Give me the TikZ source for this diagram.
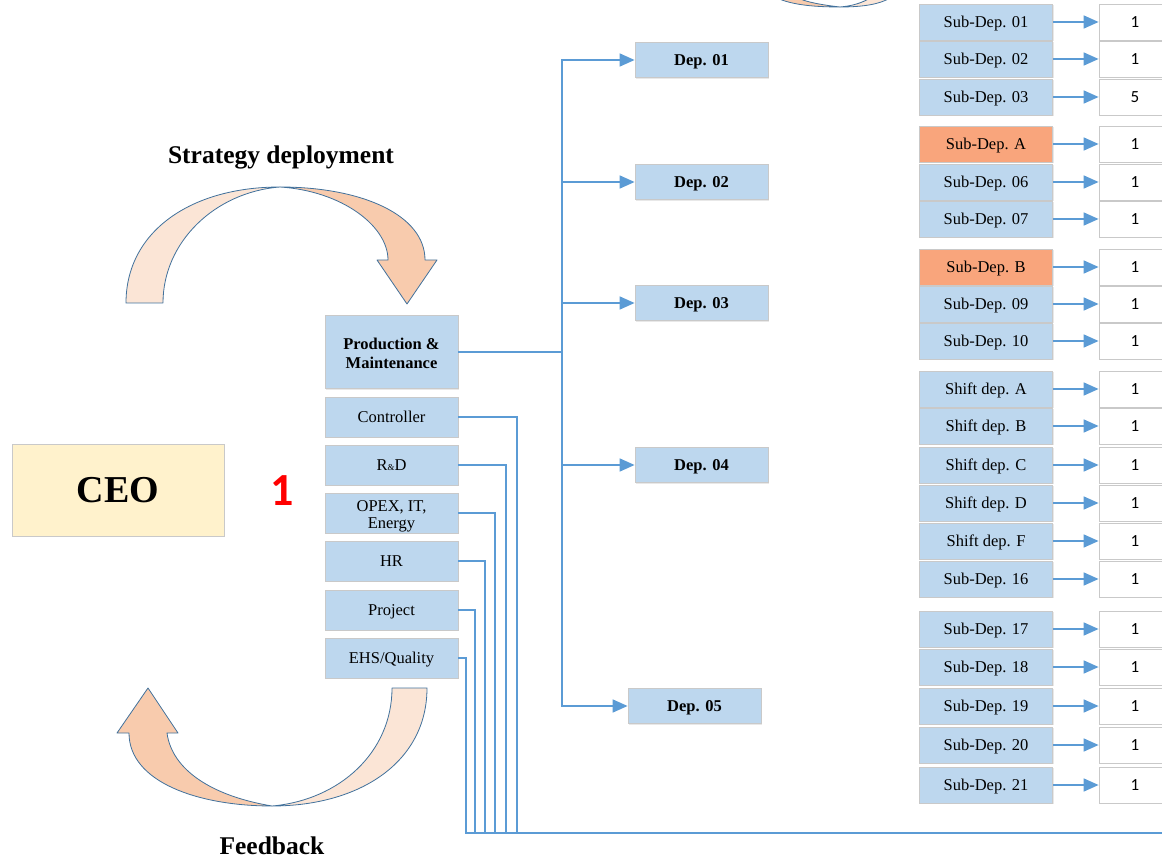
\documentclass[tikz,border=0pt]{standalone}
\usepackage{fontspec}
\setmainfont{Liberation Serif}
\newfontfamily\numfont{Carlito}
\usetikzlibrary{arrows.meta,shadows}
\definecolor{boxblue}{HTML}{BDD7EE}
\definecolor{boxorange}{HTML}{F9A57C}
\definecolor{ceoyellow}{HTML}{FFF2CC}
\definecolor{linkblue}{HTML}{5B9BD5}
\definecolor{rimgray}{HTML}{C9C9C9}
\definecolor{bandlight}{HTML}{FBE5D6}
\definecolor{banddark}{HTML}{F8CBAD}
\definecolor{bandrim}{HTML}{41719C}
\begin{document}
\begin{tikzpicture}[x=1pt,y=-1pt,
    box/.style={draw=rimgray,fill=boxblue,line width=0.8pt,inner sep=0pt,
      minimum width=133pt,minimum height=36pt,align=center,
      text height=10.8pt,text depth=0pt,
      font=\fontsize{16.5}{17}\selectfont,
      drop shadow={shadow xshift=1.2pt,shadow yshift=-1.2pt,opacity=0.18,fill=gray}},
    hot/.style={box,fill=boxorange},
    depbox/.style={box,minimum height=35pt,font=\fontsize{16.5}{17}\selectfont\bfseries},
    staff/.style={box,minimum height=40pt},
    val/.style={draw=rimgray,fill=white,line width=0.8pt,inner sep=0pt,
      minimum width=72pt,minimum height=36pt,text height=10.5pt,text depth=0pt,
      font=\numfont\fontsize{17}{17}\selectfont},
    link/.style={draw=linkblue,line width=1.6pt},
    arr/.style={link,-{Triangle[width=13pt,length=15pt]}},
    band/.style={draw=bandrim,line width=0.8pt,line join=round}]
  \clip (0,0) rectangle (1162,858);

  % curved arrows
  \filldraw[band,fill=bandlight] (126,303) .. controls (126,232) and (190,187) .. (280,187)
    .. controls (215,192) and (163,242) .. (163,303) -- cycle;
  \filldraw[band,fill=banddark] (280,187) .. controls (362,187) and (425,215) .. (425,260)
    -- (437,260) -- (407,304) -- (377,260) -- (388,260)
    .. controls (388,226) and (342,191) .. (280,187) -- cycle;
  \filldraw[band,fill=bandlight] (427,688) .. controls (427,762) and (360,806) .. (272,806)
    .. controls (340,800) and (392,752) .. (392,688) -- cycle;
  \filldraw[band,fill=banddark] (272,806) .. controls (198,806) and (129,782) .. (129,733)
    -- (117,733) -- (148,688) -- (178,733) -- (167,733)
    .. controls (172,770) and (212,796) .. (272,806) -- cycle;
  % cut arrow at the top
  \filldraw[band,fill=banddark] (777,-2) .. controls (792,5) and (815,7) .. (840,7)
    .. controls (822,5) and (806,2) .. (798,-2) -- cycle;
  \filldraw[band,fill=bandlight] (840,7) .. controls (864,7) and (880,4) .. (890,-2)
    -- (870,-2) .. controls (862,3) and (852,6) .. (840,7) -- cycle;

  \node[font=\fontsize{25.5}{27}\selectfont\bfseries] (strat) at (281,157) {Strategy deployment};
  \node[font=\fontsize{25.5}{27}\selectfont\bfseries] (feed) at (272,846) {Feedback};

  % CEO
  \node[box,fill=ceoyellow,minimum width=212pt,minimum height=92pt,text height=25pt,
    font=\fontsize{38}{40}\selectfont\bfseries] (ceo) at (118,490) {CEO};
  \node[text=red,font=\numfont\fontsize{46}{48}\selectfont\bfseries] (one) at (282,491) {1};

  % staff column
  \node[staff,minimum height=73pt,text height=33.6pt,
    font=\fontsize{16.5}{19}\selectfont\bfseries] (prod) at (391.5,352) {Production \&\\Maintenance};
  \node[staff] (ctrl) at (391.5,417) {Controller};
  \node[staff] (rd) at (391.5,465) {R{\small\&}D};
  \node[staff,text height=31.8pt] (opex) at (391.5,513) {OPEX, IT,\\Energy};
  \node[staff] (hr) at (391.5,561) {HR};
  \node[staff] (proj) at (391.5,610) {Project};
  \node[staff] (ehs) at (391.5,658) {EHS/Quality};

  % departments
  \node[depbox] (dep1) at (701.5,60) {Dep. 01};
  \node[depbox] (dep2) at (701.5,182) {Dep. 02};
  \node[depbox] (dep3) at (701.5,303) {Dep. 03};
  \node[depbox] (dep4) at (701.5,465) {Dep. 04};
  \node[depbox] (dep5) at (694.5,706) {Dep. 05};

  \coordinate (jn) at (562,352);
  \draw[link] (prod.east) -- (jn);
  \draw[arr] (jn) |- (dep1.west);
  \draw[arr] (jn) |- (dep2.west);
  \draw[arr] (jn) |- (dep3.west);
  \draw[arr] (jn) |- (dep4.west);
  \draw[arr] (jn) |- (dep5.west);

  % staff lines to the bottom bus
  \coordinate (bus) at (1170,833);
  \coordinate (bctrl) at (517,833);
  \coordinate (brd) at (506,833);
  \coordinate (bopex) at (495,833);
  \coordinate (bhr) at (485,833);
  \coordinate (bproj) at (475,833);
  \coordinate (behs) at (466,833);
  \draw[link] (ctrl.east) -| (bctrl) -- (bus);
  \draw[link] (rd.east) -| (brd) -- (bus);
  \draw[link] (opex.east) -| (bopex) -- (bus);
  \draw[link] (hr.east) -| (bhr) -- (bus);
  \draw[link] (proj.east) -| (bproj) -- (bus);
  \draw[link] (ehs.east) -| (behs) -- (bus);

  % sub-departments and their values
  \node[box] (s01) at (986,22) {Sub-Dep. 01};   \node[val] (v01) at (1135,22) {1};
  \node[box] (s02) at (986,59) {Sub-Dep. 02};   \node[val] (v02) at (1135,59) {1};
  \node[box] (s03) at (986,97) {Sub-Dep. 03};   \node[val] (v03) at (1135,97) {5};
  \node[hot] (sA) at (986,144) {Sub-Dep. A};    \node[val] (vA) at (1135,144) {1};
  \node[box] (s06) at (986,182) {Sub-Dep. 06};  \node[val] (v06) at (1135,182) {1};
  \node[box] (s07) at (986,219) {Sub-Dep. 07};  \node[val] (v07) at (1135,219) {1};
  \node[hot] (sB) at (986,267) {Sub-Dep. B};    \node[val] (vB) at (1135,267) {1};
  \node[box] (s09) at (986,304) {Sub-Dep. 09};  \node[val] (v09) at (1135,304) {1};
  \node[box] (s10) at (986,341) {Sub-Dep. 10};  \node[val] (v10) at (1135,341) {1};
  \node[box] (shA) at (986,389) {Shift dep. A}; \node[val] (vhA) at (1135,389) {1};
  \node[box] (shB) at (986,426) {Shift dep. B}; \node[val] (vhB) at (1135,426) {1};
  \node[box] (shC) at (986,465) {Shift dep. C}; \node[val] (vhC) at (1135,465) {1};
  \node[box] (shD) at (986,503) {Shift dep. D}; \node[val] (vhD) at (1135,503) {1};
  \node[box] (shF) at (986,541) {Shift dep. F}; \node[val] (vhF) at (1135,541) {1};
  \node[box] (s16) at (986,579) {Sub-Dep. 16};  \node[val] (v16) at (1135,579) {1};
  \node[box] (s17) at (986,629) {Sub-Dep. 17};  \node[val] (v17) at (1135,629) {1};
  \node[box] (s18) at (986,667) {Sub-Dep. 18};  \node[val] (v18) at (1135,667) {1};
  \node[box] (s19) at (986,706) {Sub-Dep. 19};  \node[val] (v19) at (1135,706) {1};
  \node[box] (s20) at (986,745) {Sub-Dep. 20};  \node[val] (v20) at (1135,745) {1};
  \node[box] (s21) at (986,785) {Sub-Dep. 21};  \node[val] (v21) at (1135,785) {1};

  \draw[arr] (s01) -- (v01);  \draw[arr] (s02) -- (v02);  \draw[arr] (s03) -- (v03);
  \draw[arr] (sA) -- (vA);    \draw[arr] (s06) -- (v06);  \draw[arr] (s07) -- (v07);
  \draw[arr] (sB) -- (vB);    \draw[arr] (s09) -- (v09);  \draw[arr] (s10) -- (v10);
  \draw[arr] (shA) -- (vhA);  \draw[arr] (shB) -- (vhB);  \draw[arr] (shC) -- (vhC);
  \draw[arr] (shD) -- (vhD);  \draw[arr] (shF) -- (vhF);  \draw[arr] (s16) -- (v16);
  \draw[arr] (s17) -- (v17);  \draw[arr] (s18) -- (v18);  \draw[arr] (s19) -- (v19);
  \draw[arr] (s20) -- (v20);  \draw[arr] (s21) -- (v21);
\end{tikzpicture}
\end{document}
